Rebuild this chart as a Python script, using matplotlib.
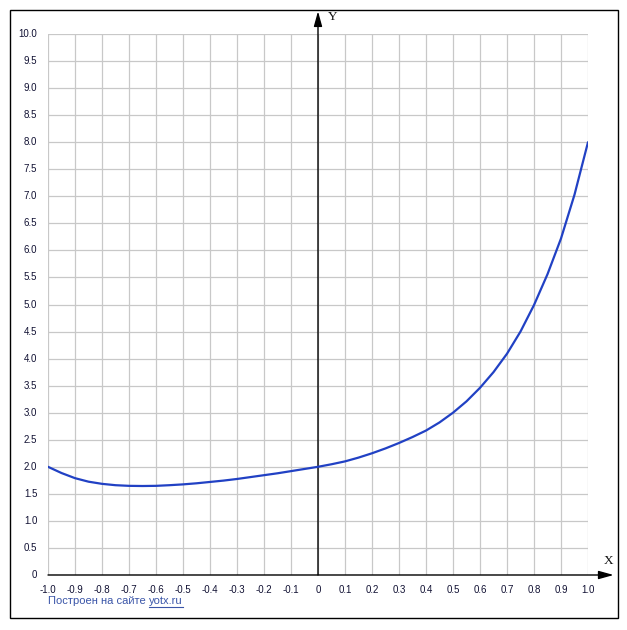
import numpy as np
import matplotlib
matplotlib.use("Agg")
import matplotlib.pyplot as plt
from matplotlib.patches import Rectangle
from matplotlib.lines import Line2D

# values (step 0.05)
x_vals = [-1.0, -0.95, -0.9, -0.85, -0.8, -0.75, -0.7, -0.65, -0.6, -0.55, -0.5,
          -0.45, -0.4, -0.35, -0.3, -0.25, -0.2, -0.15, -0.1, -0.05, 0.0,
          0.05, 0.1, 0.15, 0.2, 0.25, 0.3, 0.35, 0.4, 0.45, 0.5,
          0.55, 0.6, 0.65, 0.7, 0.75, 0.8, 0.85, 0.9, 0.95, 1.0]
y_vals = [2.0, 1.885, 1.79, 1.725, 1.685, 1.66, 1.648, 1.645, 1.648, 1.66, 1.675,
          1.695, 1.72, 1.745, 1.775, 1.81, 1.845, 1.88, 1.92, 1.96, 2.0,
          2.047, 2.1, 2.17, 2.25, 2.34, 2.44, 2.55, 2.67, 2.82, 3.0,
          3.21, 3.46, 3.75, 4.09, 4.5, 4.99, 5.56, 6.22, 7.03, 8.0]

x_ticks = [round(-1.0 + 0.1 * i, 1) for i in range(21)]
y_ticks = [round(0.5 * i, 1) for i in range(21)]
x_labels = ["0" if t == 0 else f"{t:.1f}" for t in x_ticks]
y_labels = ["0" if t == 0 else f"{t:.1f}" for t in y_ticks]

W, H = 627, 630
fig = plt.figure(figsize=(W / 100, H / 100), dpi=100)
ax = fig.add_axes([48 / W, (H - 575) / H, 540 / W, 541 / H])
ax.set_xlim(-1, 1)
ax.set_ylim(0, 10)
ax.axis("off")

# grid
for t in x_ticks:
    ax.plot([t, t], [0, 10], color="#c8c8c8", lw=0.9, zorder=1)
for t in y_ticks:
    ax.plot([-1, 1], [t, t], color="#c8c8c8", lw=0.9, zorder=1)

# axes with arrows
ax.annotate("", xy=(1.095, 0), xytext=(-1, 0),
            arrowprops=dict(arrowstyle="-|>,head_length=0.9,head_width=0.25",
                            color="black", lw=1.0, shrinkA=0, shrinkB=0),
            annotation_clip=False, zorder=3)
ax.annotate("", xy=(0, 10.42), xytext=(0, 0),
            arrowprops=dict(arrowstyle="-|>,head_length=0.9,head_width=0.25",
                            color="black", lw=1.0, shrinkA=0, shrinkB=0),
            annotation_clip=False, zorder=3)
ax.text(1.06, 0.25, "X", family="Liberation Serif", fontsize=9.5, ha="left",
        va="center", color="#111111", clip_on=False)
ax.text(0.035, 10.2, "Y", family="Liberation Serif", fontsize=9.5, ha="left",
        va="bottom", color="#111111", clip_on=False)

# curve
ax.plot(x_vals, y_vals, color="#2141c4", lw=1.6, zorder=4, solid_capstyle="round")

# tick labels
for t, lab in zip(x_ticks, x_labels):
    ax.text(t, -0.27, lab, family="Liberation Sans", fontsize=7, ha="center",
            va="center", color="#111133", clip_on=False)
for t, lab in zip(y_ticks, y_labels):
    ax.text(-1.04, t, lab, family="Liberation Sans", fontsize=7, ha="right",
            va="center", color="#111133", clip_on=False)

# footer
fx, fy = 48 / W, (H - 604) / H
t1 = fig.text(fx, fy, "Построен на сайте ", family="Liberation Sans", fontsize=8,
              color="#3a55a8", ha="left", va="baseline")
fig.canvas.draw()
bb = t1.get_window_extent()
x2 = bb.x1 / W
t2 = fig.text(x2, fy, "yotx.ru", family="Liberation Sans", fontsize=8,
              color="#3a55a8", ha="left", va="baseline")
fig.canvas.draw()
bb2 = t2.get_window_extent()
fig.add_artist(Line2D([bb2.x0 / W, bb2.x1 / W], [fy - 3 / H, fy - 3 / H],
                      transform=fig.transFigure, color="#3a55a8", lw=0.8))

# outer frame
fig.add_artist(Rectangle((9.5 / W, 12 / H), 608.5 / W, 608.5 / H, fill=False,
                         edgecolor="black", lw=1.0, transform=fig.transFigure))

fig.savefig("out.png", dpi=100)
